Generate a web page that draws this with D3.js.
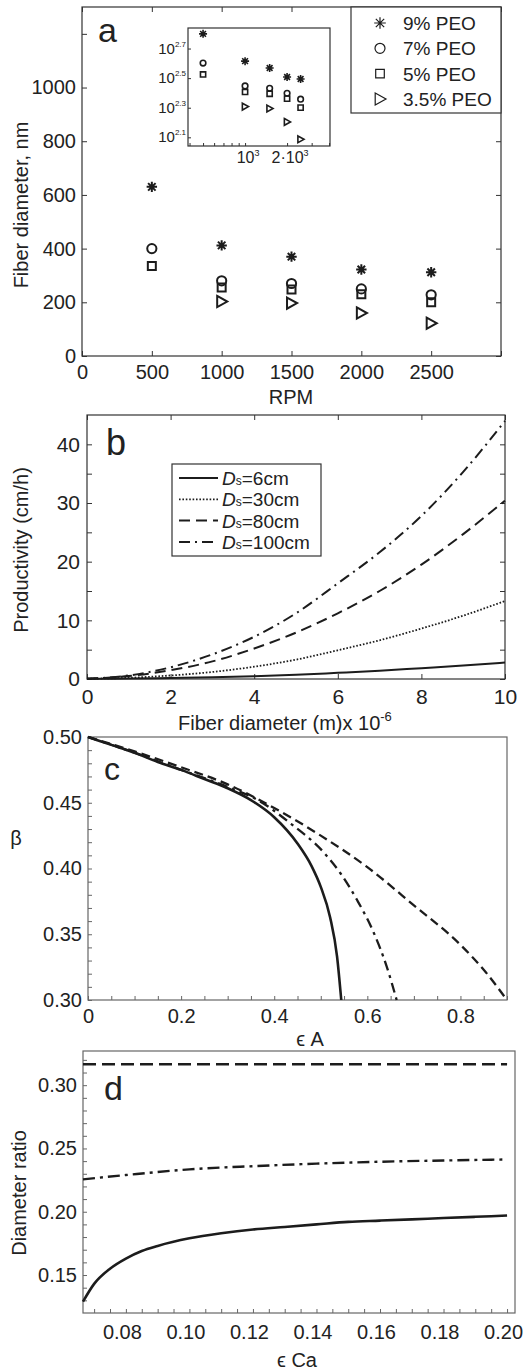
<!DOCTYPE html>
<html>
<head>
<meta charset="utf-8">
<script src="https://cdn.jsdelivr.net/npm/d3@7"></script>
<style>
  body { margin: 0; background: #fff; }
  svg { display: block; }
</style>
</head>
<body>
<svg id="fig" width="532" height="1370"></svg>
<script>
// panel a - fiber diameter vs RPM
var rpm = [500, 1000, 1500, 2000, 2500];
var peo9 = [630, 412, 370, 322, 312];
var peo7 = [400, 280, 270, 250, 228];
var peo5 = [335, 255, 248, 230, 200];
var peo35 = [null, 203, 197, 160, 122];
var peoNames = ["9% PEO", "7% PEO", "5% PEO", "3.5% PEO"];
var rpmTicks = [0, 500, 1000, 1500, 2000, 2500, 3000];
var diamTicks = [0, 200, 400, 600, 800, 1000, 1200];

// panel b - productivity
var fiberD = [0, 1, 2, 3, 4, 5, 6, 7, 8, 9, 10];
var prod6 = [0.05, 0.08, 0.18, 0.3, 0.48, 0.72, 1.05, 1.4, 1.85, 2.3, 2.8];
var prod30 = [0.05, 0.2, 0.6, 1.2, 2.1, 3.3, 4.9, 6.6, 8.6, 10.8, 13.3];
var prod80 = [0.05, 0.5, 1.5, 3.0, 5.2, 7.9, 11.2, 15.0, 19.5, 24.7, 30.4];
var prod100 = [0.05, 0.6, 2.0, 4.2, 7.2, 11.2, 16.3, 21.6, 27.8, 35.3, 44.0];
var prodNames = ["6cm", "30cm", "80cm", "100cm"];

// panel c - beta vs eps A
var cSolidX = [0, 0.05, 0.1, 0.15, 0.2, 0.25, 0.3, 0.35, 0.4, 0.45, 0.48, 0.5, 0.52, 0.535, 0.544];
var cSolidY = [0.5, 0.494, 0.488, 0.481, 0.475, 0.468, 0.461, 0.452, 0.439, 0.419, 0.402, 0.386, 0.363, 0.333, 0.30];
var cDashDotX = [0, 0.1, 0.2, 0.3, 0.365, 0.436, 0.507, 0.543, 0.578, 0.614, 0.642, 0.663];
var cDashDotY = [0.5, 0.488, 0.475, 0.462, 0.452, 0.434, 0.412, 0.396, 0.376, 0.351, 0.325, 0.30];
var cDashX = [0, 0.1, 0.2, 0.3, 0.4, 0.5, 0.6, 0.7, 0.8, 0.85, 0.9];
var cDashY = [0.5, 0.489, 0.477, 0.464, 0.446, 0.425, 0.401, 0.372, 0.342, 0.323, 0.30];

// panel d - diameter ratio vs eps Ca
var dX = [0.0665, 0.07, 0.075, 0.08, 0.085, 0.09, 0.1, 0.11, 0.12, 0.13, 0.14, 0.15, 0.16, 0.17, 0.18, 0.19, 0.2];
var dSolid = [0.129, 0.143, 0.155, 0.163, 0.169, 0.173, 0.179, 0.183, 0.186, 0.188, 0.190, 0.192, 0.193, 0.194, 0.195, 0.196, 0.197];
var dDashDotX = [0.0665, 0.08, 0.1, 0.12, 0.14, 0.16, 0.18, 0.2];
var dDashDot = [0.2256, 0.229, 0.2335, 0.236, 0.238, 0.2395, 0.2405, 0.2413];
var dDashX = [0.0665, 0.2];
var dDash = [0.3165, 0.3165];

var FONT = "'Liberation Sans', Arial, Helvetica, sans-serif";
var INK = "#1c1c1c";
var svg = d3.select("#fig");

function styleAxis(g, size, color) {
  g.attr("font-family", FONT).attr("font-size", size);
  g.select(".domain").remove();
  g.selectAll(".tick line").attr("stroke", color).attr("stroke-width", 1);
  g.selectAll(".tick text").attr("fill", "#222");
}

function frame(x0, y0, x1, y1, color) {
  svg.append("rect")
    .attr("x", x0).attr("y", y0)
    .attr("width", x1 - x0).attr("height", y1 - y0)
    .attr("fill", "none").attr("stroke", color).attr("stroke-width", 1.2);
}

function label(txt, x, y, size, opts) {
  opts = opts || {};
  var t = svg.append("text")
    .attr("x", x).attr("y", y)
    .attr("font-family", FONT).attr("font-size", size)
    .attr("fill", "#222")
    .attr("text-anchor", opts.anchor || "middle")
    .text(txt);
  if (opts.rotate) t.attr("transform", "rotate(-90," + x + "," + y + ")");
  return t;
}

function markerPath(type, s) {
  var p = d3.path();
  if (type === "star") {
    var k = s * 0.72;
    p.moveTo(-s, 0); p.lineTo(s, 0);
    p.moveTo(0, -s); p.lineTo(0, s);
    p.moveTo(-k, -k); p.lineTo(k, k);
    p.moveTo(-k, k); p.lineTo(k, -k);
  } else if (type === "circle") {
    p.moveTo(s, 0); p.arc(0, 0, s, 0, 2 * Math.PI);
  } else if (type === "square") {
    p.rect(-s, -s, 2 * s, 2 * s);
  } else {
    p.moveTo(-s * 0.8, -s); p.lineTo(s, 0); p.lineTo(-s * 0.8, s); p.closePath();
  }
  return p.toString();
}

var markerTypes = ["star", "circle", "square", "tri"];
var seriesA = [peo9, peo7, peo5, peo35].map(function(vals, i) {
  return { name: peoNames[i], type: markerTypes[i],
    pts: rpm.map(function(r, j) { return { x: r, y: vals[j] }; })
            .filter(function(d) { return d.y != null; }) };
});

// ================= panel a =================
var xA = d3.scaleLinear().domain([0, 3000]).range([82, 501]);
var yA = d3.scaleLinear().domain([0, 1300]).range([356, 7]);

svg.append("g").attr("transform", "translate(82,0)")
  .call(d3.axisLeft(yA).tickValues(diamTicks).tickSize(-5).tickPadding(6)
    .tickFormat(function(d) { return d === 1200 ? "" : d; }))
  .call(styleAxis, 20, "#333");
svg.append("g").attr("transform", "translate(501,0)")
  .call(d3.axisRight(yA).tickValues(diamTicks).tickSize(-5).tickFormat(""))
  .call(styleAxis, 20, "#333");
svg.append("g").attr("transform", "translate(0,356)")
  .call(d3.axisBottom(xA).tickValues(rpmTicks).tickSize(-5).tickPadding(9)
    .tickFormat(function(d) { return d === 3000 ? "" : d; }))
  .call(styleAxis, 20, "#333");
svg.append("g").attr("transform", "translate(0,7)")
  .call(d3.axisTop(xA).tickValues(rpmTicks).tickSize(-5).tickFormat(""))
  .call(styleAxis, 20, "#333");
frame(82, 7, 501, 356, "#333");

var mainSize = { star: 5.2, circle: 4.6, square: 4.0, tri: 5.6 };
seriesA.forEach(function(s) {
  svg.append("g").selectAll("path").data(s.pts).enter().append("path")
    .attr("d", markerPath(s.type, mainSize[s.type]))
    .attr("transform", function(d) { return "translate(" + xA(d.x) + "," + yA(d.y) + ")"; })
    .attr("fill", "none").attr("stroke", INK).attr("stroke-width", 2);
});

label("a", 98, 42, 34, { anchor: "start" });
label("Fiber diameter, nm", 28, 205, 20, { rotate: true });
label("RPM", 291, 404, 20);

// inset (log-log)
var xI = d3.scaleLog().domain([390, 4060]).range([188, 330]);
var yI = d3.scaleLog().domain([110, 690]).range([146, 28]);
svg.append("rect").attr("x", 188).attr("y", 28).attr("width", 142).attr("height", 118)
  .attr("fill", "#fff");
var insetYT = [2.1, 2.3, 2.5, 2.7];
var insetXMinor = [400, 500, 600, 700, 800, 900, 1000, 2000, 3000, 4000];
svg.append("g").attr("transform", "translate(188,0)")
  .call(d3.axisLeft(yI).tickValues(insetYT.map(function(e) { return Math.pow(10, e); }))
    .tickSize(-3).tickFormat(""))
  .call(styleAxis, 12, "#333");
svg.append("g").attr("transform", "translate(0,146)")
  .call(d3.axisBottom(xI).tickValues(insetXMinor).tickSize(-3).tickFormat(""))
  .call(styleAxis, 12, "#333");
frame(188, 28, 330, 146, "#333");
insetYT.forEach(function(e) {
  var t = svg.append("text").attr("x", 186).attr("y", yI(Math.pow(10, e)) + 5)
    .attr("font-family", FONT).attr("font-size", 15).attr("fill", "#222")
    .attr("text-anchor", "end");
  t.append("tspan").text("10");
  t.append("tspan").attr("dy", -7).attr("font-size", 8).text(e.toFixed(1));
});
[[1000, "10"], [2000, "2\u00b710"]].forEach(function(d) {
  var t = svg.append("text").attr("x", xI(d[0]) + 3).attr("y", 163)
    .attr("font-family", FONT).attr("font-size", 16).attr("fill", "#222")
    .attr("text-anchor", "middle");
  t.append("tspan").text(d[1]);
  t.append("tspan").attr("dy", -7).attr("font-size", 9).text("3");
});
var insetSize = { star: 4.0, circle: 2.8, square: 2.6, tri: 3.4 };
seriesA.forEach(function(s) {
  svg.append("g").selectAll("path").data(s.pts).enter().append("path")
    .attr("d", markerPath(s.type, insetSize[s.type]))
    .attr("transform", function(d) { return "translate(" + xI(d.x) + "," + yI(d.y) + ")"; })
    .attr("fill", "none").attr("stroke", INK).attr("stroke-width", 1.6);
});

// legend a
svg.append("rect").attr("x", 351).attr("y", 7).attr("width", 150).attr("height", 106)
  .attr("fill", "#fff").attr("stroke", "#333").attr("stroke-width", 1.2);
var legSize = { star: 5.8, circle: 5.0, square: 4.3, tri: 6.0 };
seriesA.forEach(function(s, i) {
  var cy = 23 + i * 25.3;
  svg.append("path").attr("d", markerPath(s.type, legSize[s.type]))
    .attr("transform", "translate(380," + cy + ")")
    .attr("fill", "none").attr("stroke", INK).attr("stroke-width", 1.2);
  label(s.name, 403, cy + 7, 19, { anchor: "start" });
});

// ================= panel b =================
var xB = d3.scaleLinear().domain([0, 10]).range([87, 505]);
var yB = d3.scaleLinear().domain([0, 45]).range([679, 415]);
var bYT = d3.range(0, 45, 5);
var bXT = [0, 2, 4, 6, 8, 10];
svg.append("g").attr("transform", "translate(87,0)")
  .call(d3.axisLeft(yB).tickValues(bYT).tickSize(-5).tickPadding(7)
    .tickFormat(function(d) { return d % 10 === 0 ? d : ""; }))
  .call(styleAxis, 21, "#333");
svg.append("g").attr("transform", "translate(505,0)")
  .call(d3.axisRight(yB).tickValues(bYT).tickSize(-5).tickFormat(""))
  .call(styleAxis, 21, "#333");
svg.append("g").attr("transform", "translate(0,679)")
  .call(d3.axisBottom(xB).tickValues(bXT).tickSize(-5).tickPadding(10))
  .call(styleAxis, 21, "#333");
svg.append("g").attr("transform", "translate(0,415)")
  .call(d3.axisTop(xB).tickValues(bXT).tickSize(-5).tickFormat(""))
  .call(styleAxis, 21, "#333");
frame(87, 415, 505, 679, "#333");

var bStyles = [
  { dash: null, w: 2 },
  { dash: "1.6,1.8", w: 1.8 },
  { dash: "11,6", w: 2 },
  { dash: "11,5,2,5", w: 2 }
];
var lineB = d3.line().x(function(d) { return xB(d[0]); }).y(function(d) { return yB(d[1]); })
  .curve(d3.curveMonotoneX);
[prod6, prod30, prod80, prod100].forEach(function(vals, i) {
  svg.append("path").datum(fiberD.map(function(x, j) { return [x, vals[j]]; }))
    .attr("d", lineB).attr("fill", "none").attr("stroke", INK)
    .attr("stroke-width", bStyles[i].w).attr("stroke-dasharray", bStyles[i].dash);
});

label("b", 106, 455, 36, { anchor: "start" });
label("Productivity (cm/h)", 28, 550, 20, { rotate: true });
var bx = svg.append("text").attr("x", 178).attr("y", 730)
  .attr("font-family", FONT).attr("font-size", 20).attr("fill", "#222");
bx.append("tspan").text("Fiber diameter (m)x 10");
bx.append("tspan").attr("dy", -9).attr("font-size", 13).text("-6");

// legend b
svg.append("rect").attr("x", 172).attr("y", 464).attr("width", 149).attr("height", 92)
  .attr("fill", "#fff").attr("stroke", "#333").attr("stroke-width", 1.2);
prodNames.forEach(function(n, i) {
  var cy = 478 + i * 21.3;
  svg.append("line").attr("x1", 179).attr("x2", 218).attr("y1", cy).attr("y2", cy)
    .attr("stroke", INK).attr("stroke-width", bStyles[i].w)
    .attr("stroke-dasharray", bStyles[i].dash);
  var t = svg.append("text").attr("x", 222).attr("y", cy + 7)
    .attr("font-family", FONT).attr("font-size", 19).attr("fill", "#222");
  t.append("tspan").attr("font-style", "italic").text("D");
  t.append("tspan").attr("font-size", 12).text("s");
  t.append("tspan").text("=" + n);
});

// ================= panel c =================
var xC = d3.scaleLinear().domain([0, 0.9]).range([88, 507]);
var yC = d3.scaleLinear().domain([0.3, 0.5]).range([1000, 737]);
var cYMinor = d3.range(0.30, 0.5001, 0.01);
svg.append("g").attr("transform", "translate(88,0)")
  .call(d3.axisLeft(yC).tickValues(cYMinor).tickSize(-4).tickPadding(6)
    .tickFormat(function(d) {
      var k = Math.round(d * 100);
      return k % 5 === 0 ? (k / 100).toFixed(2) : "";
    }))
  .call(styleAxis, 20, "#666");
svg.append("g").attr("transform", "translate(0,1000)")
  .call(d3.axisBottom(xC).tickValues(d3.range(0, 0.901, 0.05)).tickSize(-4).tickPadding(9)
    .tickFormat(function(d) {
      var k = Math.round(d * 100);
      if (k % 20 !== 0 || k > 80) return "";
      return k === 0 ? "0" : (k / 100).toFixed(1);
    }))
  .call(styleAxis, 20, "#666");
frame(88, 737, 507, 1000, "#666");

var lineC = d3.line().x(function(d) { return xC(d[0]); }).y(function(d) { return yC(d[1]); })
  .curve(d3.curveMonotoneX);
[[cSolidX, cSolidY, null, 2.6], [cDashDotX, cDashDotY, "10,5,3,5", 2.3], [cDashX, cDashY, "9,5", 2.3]]
  .forEach(function(c) {
    svg.append("path").datum(c[0].map(function(x, j) { return [x, c[1][j]]; }))
      .attr("d", lineC).attr("fill", "none").attr("stroke", INK)
      .attr("stroke-width", c[3]).attr("stroke-dasharray", c[2]);
  });

label("c", 104, 780, 32, { anchor: "start" });
label("\u03b2", 16, 845, 20);
label("\u03f5 A", 310, 1046, 20);

// ================= panel d =================
var xD = d3.scaleLinear().domain([0.0665, 0.2025]).range([83, 515]);
var yD = d3.scaleLinear().domain([0.12, 0.327]).range([1313, 1051]);
svg.append("g").attr("transform", "translate(83,0)")
  .call(d3.axisLeft(yD).tickValues(d3.range(0.13, 0.3251, 0.01)).tickSize(-4).tickPadding(6)
    .tickFormat(function(d) {
      var k = Math.round(d * 100);
      return k % 5 === 0 ? (k / 100).toFixed(2) : "";
    }))
  .call(styleAxis, 20, "#666");
svg.append("g").attr("transform", "translate(0,1313)")
  .call(d3.axisBottom(xD).tickValues(d3.range(0.07, 0.2001, 0.005)).tickSize(-4).tickPadding(12)
    .tickFormat(function(d) {
      var k = Math.round(d * 1000);
      return k % 20 === 0 ? (k / 1000).toFixed(2) : "";
    }))
  .call(styleAxis, 20, "#666")
  .call(function(g) { g.selectAll(".tick text").attr("dx", -4); });
frame(83, 1051, 515, 1313, "#666");

var lineD = d3.line().x(function(d) { return xD(d[0]); }).y(function(d) { return yD(d[1]); })
  .curve(d3.curveMonotoneX);
[[dX, dSolid, null, 2.6], [dDashDotX, dDashDot, "12,5,3,5", 2.4], [dDashX, dDash, "13,6", 2.4]]
  .forEach(function(c) {
    svg.append("path").datum(c[0].map(function(x, j) { return [x, c[1][j]]; }))
      .attr("d", lineD).attr("fill", "none").attr("stroke", INK)
      .attr("stroke-width", c[3]).attr("stroke-dasharray", c[2]);
  });

label("d", 104, 1100, 34, { anchor: "start" });
label("Diameter ratio", 26, 1193, 20, { rotate: true });
label("\u03f5 Ca", 297, 1367, 20);
</script>
</body>
</html>
